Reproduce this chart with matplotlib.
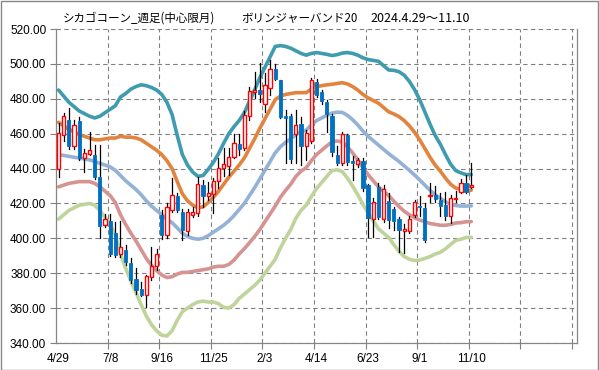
import matplotlib
matplotlib.use("Agg")
import matplotlib.pyplot as plt
from matplotlib.patches import Rectangle

# weekly corn futures, 2024/4/29 - 2025/11/10
x_labels = ["4/29", "7/8", "9/16", "11/25", "2/3", "4/14", "6/23", "9/1", "11/10"]

opens = [440, 459, 468, 453, 467, 446, 448.5, 448, 435, 407.7,
         410, 403, 391, 393.3, 385.7, 376.6, 370.8, 367.6, 378, 384,
         413.4, 402, 416.3, 424.5, 415.3, 404, 413.4, 414.4, 430.6, 424,
         425.4, 433.1, 440.2, 441.5, 446.5, 454, 451.6, 470.1, 484, 485,
         477, 486, 497, 490.8, 470.1, 470, 459.8, 465.6, 453, 456,
         489.8, 484.1, 478.4, 470, 448, 443.4, 459.2, 444.4, 442.4, 444.5,
         430.6, 411, 429.6, 411, 421.6, 416.7, 410.9, 404.4, 404.4, 413.4,
         418.6, 417.6, 424, 425, 422, 419.1, 412.8, 422.6, 426.8, 431.6,
         429.3]
highs = [466, 472, 475, 468, 469.5, 451, 461, 453.5, 453.5, 414,
         414, 409.5, 410, 396, 389, 383, 375, 379, 395, 394,
         416, 420, 434.5, 426, 417, 417, 418, 435.4, 433.5, 432.5,
         434.5, 446, 451.6, 452, 460, 460, 473, 487, 495.5, 500.3,
         494.6, 502, 500, 491, 473.5, 471, 473.5, 469.7, 462, 491.7,
         491.2, 485, 479.3, 471, 453, 461.2, 460, 447, 446, 446,
         431, 423, 432, 430.6, 425.8, 418, 412, 408, 413, 422,
         424, 420, 431.5, 430, 426, 426.8, 424.9, 427, 434, 436.5,
         443]
lows = [435, 456, 451, 451, 445, 438, 448, 434, 400, 406.5,
        390, 389.5, 389.5, 385, 374.5, 368, 367, 360.5, 376, 382,
        399.5, 400, 415, 415, 399, 402, 412.5, 413, 418, 422,
        414.8, 428.7, 436, 436.5, 446, 448, 450.5, 468, 480.3, 478.4,
        472.6, 482, 490.7, 469, 443, 443, 443, 442, 445, 454.5,
        481, 477, 461.2, 447, 442, 442, 442, 433.5, 441, 427,
        401, 401, 411, 409.6, 405.8, 405, 392.4, 391.8, 403, 412,
        413, 398, 421, 421, 413, 410.5, 408.6, 421, 426, 426,
        428.7]
closes = [460.5, 470, 453, 465, 446, 449, 450.5, 435, 407, 411,
          391, 390.5, 395, 386.7, 376.2, 370.4, 367.6, 378.5, 384, 391,
          402, 418, 425, 416.3, 404.8, 415.3, 415.3, 431, 424, 425.8,
          433, 440.2, 442.6, 446.5, 454.5, 451, 470.7, 484.7, 485, 482.6,
          487.7, 497, 491.3, 469.4, 469.2, 445.5, 465, 452.9, 460.6, 490.8,
          482.2, 478.9, 471, 449.7, 443.4, 459.8, 444, 443, 444.9, 428.7,
          411.5, 421, 412.5, 428, 410.5, 410.2, 404.8, 405.2, 411, 420.7,
          417.8, 399.1, 425, 422.5, 418.6, 412.8, 423, 423.2, 431.6, 426.8,
          430.6]

ma20 = [448, 447.5, 447, 446.5, 446, 445.5, 445, 444, 443, 442,
        441, 439, 436, 433, 430.5, 428, 425, 421.5, 418.5, 416,
        413.5, 411, 409, 406, 403, 401, 400, 399.5, 400, 401.5,
        403.5, 405.5, 407.5, 410, 413, 416.5, 420, 424.5, 429, 434,
        439, 444, 449, 452.5, 455, 457, 459.5, 461, 462, 465,
        467.5, 469, 470.5, 471.8, 472.3, 472.2, 470.5, 468, 465, 461.5,
        458.5, 456, 453.5, 451, 448.5, 446.3, 444, 441.5, 439, 436.3,
        433.5, 430.5, 427.5, 425, 423, 421, 419.5, 418.8, 418.5, 418.5,
        418.6]
sd20 = [18.5, 17, 15.5, 14.5, 13.5, 13, 12.5, 12.5, 13.5, 15,
        16.5, 18.5, 22.5, 25, 27.5, 29.5, 31.5, 33, 34, 34.5,
        34.5, 33.5, 31, 26.5, 22.5, 20.5, 19, 18, 18, 19,
        20, 21.5, 23.5, 25, 25.5, 25.5, 26, 27, 28, 29,
        29.5, 30, 30.5, 29, 27.5, 26, 24, 22.5, 21.5, 20.5,
        19.5, 18.5, 17.5, 16.5, 16.5, 17, 18, 19, 20, 21,
        22, 23, 24, 24, 24, 25, 25.75, 26, 25.5, 24.5,
        23, 21, 19, 17, 15.5, 13.5, 11.5, 10, 9.5, 9,
        9]

n_slots = 101
xs = list(range(len(closes)))

bands = [
    (2, "#3F9BAF"),
    (1, "#E2843D"),
    (0, "#94B1D6"),
    (-1, "#D59391"),
    (-2, "#BFD49A"),
]

fig = plt.figure(figsize=(5.99, 3.70), dpi=100)
ax = fig.add_axes([56 / 599, 1 - 343 / 370, 521 / 599, 314 / 370])

for k, col in bands:
    ys = [m + k * s for m, s in zip(ma20, sd20)]
    ax.plot(xs, ys, color=col, lw=2.6, solid_capstyle="round", zorder=2)

body_w = 0.62
for i in xs:
    o, h, l, c = opens[i], highs[i], lows[i], closes[i]
    ax.plot([i, i], [l, h], color="black", lw=0.9, zorder=3)
    lo, hi = min(o, c), max(o, c)
    if c >= o:
        rect = Rectangle((i - body_w / 2, lo), body_w, max(hi - lo, 0.6),
                         facecolor="white", edgecolor="#FF0000", lw=1.0, zorder=4)
    else:
        rect = Rectangle((i - body_w / 2, lo), body_w, max(hi - lo, 0.6),
                         facecolor="#0070C0", edgecolor="#0070C0", lw=0.6, zorder=4)
    ax.add_patch(rect)

ax.set_xlim(-0.5, n_slots - 0.5)
ax.set_ylim(340, 520)
ax.set_yticks(range(340, 521, 20))
ax.set_yticklabels(["%.2f" % v for v in range(340, 521, 20)])

ax.set_xticks([i * 10 for i in range(len(x_labels))])
ax.set_xticklabels(x_labels)
ax.set_xticks([i * 10 + 9.5 for i in range(10)], minor=True)
ax.tick_params(axis="x", which="major", length=0, pad=7, labelsize=8.5)
ax.tick_params(axis="x", which="minor", length=4, color="#808080", width=0.8)
ax.tick_params(axis="y", length=4, color="#808080", width=0.8, labelsize=8.5, pad=3)
for t in ax.get_xticklabels() + ax.get_yticklabels():
    t.set_fontfamily("Liberation Sans")

ax.grid(True, axis="y", color="#808080", ls=(0, (4, 3)), lw=0.8)
ax.grid(True, axis="x", which="minor", color="#808080", ls=(0, (4, 3)), lw=0.8)
for side in ["left", "bottom", "right"]:
    ax.spines[side].set_color("#868686")
    ax.spines[side].set_linewidth(0.9)
ax.spines["top"].set_visible(False)

# title in three pieces, placed like the original
jp = ["Noto Sans CJK JP", "DejaVu Sans"]
ty = 1 - 18 / 370
fig.text(63 / 599, ty, "シカゴコーン_週足(中心限月)", ha="left", va="center",
         fontsize=8.3, family=jp)
fig.text(241 / 599, ty, "ボリンジャーバンド20", ha="left", va="center",
         fontsize=8.3, family=jp)
fig.text(370 / 599, ty, "2024.4.29～11.10", ha="left", va="center",
         fontsize=9, family=jp)

fig.patches.append(Rectangle((0.5 / 599, 0.5 / 370), 597.5 / 599, 368.5 / 370,
                             transform=fig.transFigure, fill=False,
                             edgecolor="#888888", lw=1.0))

fig.savefig("out.png", dpi=100)
